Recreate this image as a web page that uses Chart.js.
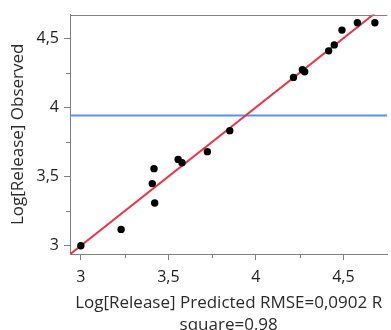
<!DOCTYPE html>
<html>
<head>
<meta charset="utf-8">
<script src="https://cdn.jsdelivr.net/npm/chart.js@4/dist/chart.umd.min.js"></script>
<style>
  html, body { margin: 0; padding: 0; background: #fff; }
  #wrap { width: 391px; height: 330px; position: relative; }
</style>
</head>
<body>
<div id="wrap"><canvas id="c" width="391" height="330"></canvas></div>
<script>
// ---- data ----
const predicted = [3.00, 3.23, 3.408, 3.418, 3.422, 3.556, 3.578, 3.723, 3.851, 4.215, 4.266, 4.279, 4.416, 4.448, 4.492, 4.580, 4.680];
const observed  = [3.00, 3.118, 3.449, 3.557, 3.309, 3.624, 3.600, 3.680, 3.832, 4.217, 4.272, 4.258, 4.409, 4.452, 4.559, 4.612, 4.612];
const meanObserved = 3.942;
const xRange = [2.938, 4.751];
const yRange = [2.94, 4.671];
const majorTicks = [3, 3.5, 4, 4.5];
const minorTicks = [3.25, 3.75, 4.25];
const xTitle = ["Log[Release] Predicted RMSE=0,0902 R", "square=0,98"];
const yTitle = "Log[Release] Observed";

const FONT = "'Open Sans', 'Noto Sans', sans-serif";
const frameColor = '#7f7f7f';

const points = predicted.map((x, i) => ({ x: x, y: observed[i] }));
const fitLine = [{ x: xRange[0], y: xRange[0] }, { x: xRange[1], y: xRange[1] }];
const meanLine = [{ x: xRange[0], y: meanObserved }, { x: xRange[1], y: meanObserved }];

const fmt = v => String(v).replace('.', ',');

const framePlugin = {
  id: 'frame',
  afterDraw(chart) {
    const { ctx, chartArea, scales } = chart;
    ctx.save();
    ctx.strokeStyle = frameColor;
    ctx.lineWidth = 1;
    ctx.beginPath();
    ctx.moveTo(chartArea.left, Math.round(chartArea.top) + 0.5);
    ctx.lineTo(chartArea.right, Math.round(chartArea.top) + 0.5);
    ctx.stroke();
    minorTicks.forEach(v => {
      const px = Math.round(scales.x.getPixelForValue(v)) + 0.5;
      ctx.beginPath();
      ctx.moveTo(px, chartArea.bottom);
      ctx.lineTo(px, chartArea.bottom + 4);
      ctx.stroke();
      const py = Math.round(scales.y.getPixelForValue(v)) + 0.5;
      ctx.beginPath();
      ctx.moveTo(chartArea.left, py);
      ctx.lineTo(chartArea.left - 4, py);
      ctx.stroke();
    });
    ctx.restore();
  }
};

new Chart(document.getElementById('c'), {
  type: 'scatter',
  data: {
    datasets: [
      {
        label: 'points',
        data: points,
        backgroundColor: '#000',
        borderColor: '#000',
        pointRadius: 3.7,
        pointHoverRadius: 3.7,
        borderWidth: 0
      },
      {
        label: 'fit',
        type: 'line',
        data: fitLine,
        borderColor: '#ec3347',
        borderWidth: 2,
        pointRadius: 0,
        fill: false
      },
      {
        label: 'mean',
        type: 'line',
        data: meanLine,
        borderColor: '#5b8ff0',
        borderWidth: 2,
        pointRadius: 0,
        fill: false
      }
    ]
  },
  options: {
    responsive: false,
    animation: false,
    events: [],
    layout: { padding: { top: 13, right: 0, bottom: 0, left: 0 } },
    plugins: { legend: { display: false }, tooltip: { enabled: false } },
    scales: {
      x: {
        type: 'linear',
        min: xRange[0],
        max: xRange[1],
        afterBuildTicks: s => { s.ticks = majorTicks.map(v => ({ value: v })); },
        afterFit: s => { s.height = 76; },
        border: { display: true, color: frameColor, width: 1 },
        grid: { drawOnChartArea: false, drawTicks: true, tickLength: 6, tickColor: frameColor },
        ticks: {
          padding: 8,
          color: '#1e1e1e',
          font: { family: FONT, size: 16 },
          callback: v => fmt(v),
          maxRotation: 0
        },
        title: {
          display: true,
          text: xTitle,
          color: '#2a2a2a',
          font: { family: FONT, size: 17, lineHeight: 1.294 },
          padding: { top: 0, bottom: -6 }
        }
      },
      y: {
        type: 'linear',
        min: yRange[0],
        max: yRange[1],
        afterBuildTicks: s => { s.ticks = majorTicks.map(v => ({ value: v })); },
        afterFit: s => { s.width = 70; },
        border: { display: true, color: frameColor, width: 1 },
        grid: { drawOnChartArea: false, drawTicks: true, tickLength: 6, tickColor: frameColor },
        ticks: {
          padding: 5,
          color: '#1e1e1e',
          font: { family: FONT, size: 16 },
          callback: v => fmt(v)
        },
        title: {
          display: true,
          text: yTitle,
          color: '#2a2a2a',
          font: { family: FONT, size: 17, lineHeight: 1.294 },
          padding: { top: 7.5, bottom: 0 }
        }
      }
    }
  },
  plugins: [framePlugin]
});
</script>
</body>
</html>
